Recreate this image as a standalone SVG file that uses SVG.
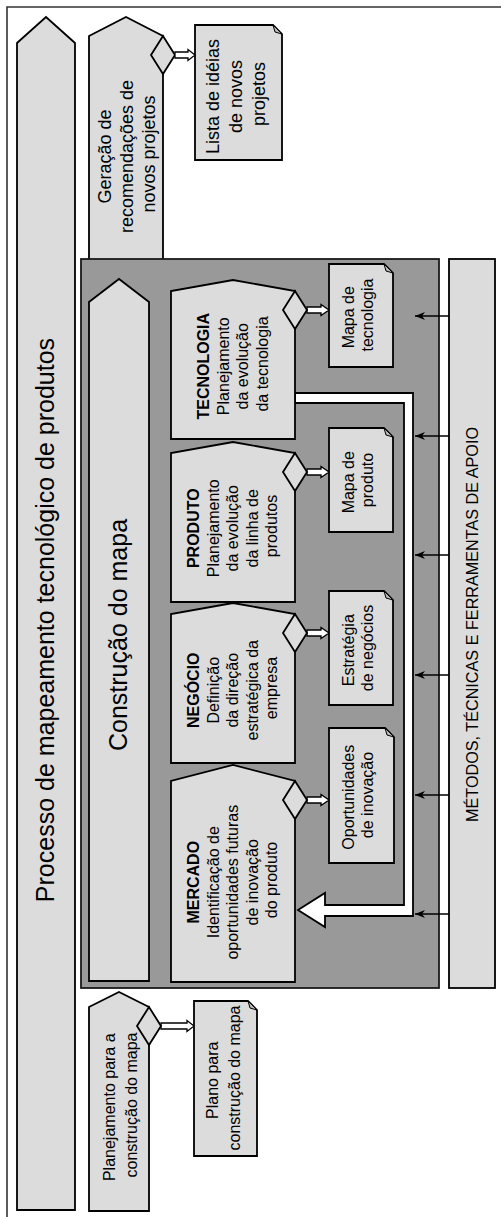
<svg xmlns="http://www.w3.org/2000/svg" width="501" height="1217" viewBox="0 0 501 1217">
  <style>
    .lt { fill: #dcdcdc; stroke: #000; stroke-width: 1.8; stroke-linejoin: miter; }
    .panel { fill: #999999; stroke: #1a1a1a; stroke-width: 1.8; }
    .fold { fill: #b8b8b8; stroke: #000; stroke-width: 1; }
    .hollow { fill: #ffffff; stroke: #000; stroke-width: 1.3; }
    .pipe { fill: #ffffff; stroke: #000; stroke-width: 1.8; stroke-linejoin: miter; }
    .feed { stroke: #000; stroke-width: 1.4; fill: none; }
    .t { font-family: "Liberation Sans", Arial, sans-serif; fill: #000; text-anchor: middle; }
    .s16 { font-size: 16px; }
    .s18 { font-size: 18px; }
    .s25 { font-size: 25px; }
    .b { font-weight: bold; }
  </style>
  <defs>
    <marker id="tip" markerUnits="userSpaceOnUse" markerWidth="12" markerHeight="10" refX="10" refY="4" orient="auto">
      <path d="M0,0 L10,4 L0,8 L3,4 Z" fill="#000"/>
    </marker>
  </defs>

  <rect width="501" height="1217" fill="#ffffff"/>

  <!-- outer frame (runs past the right and bottom edges) -->
  <path d="M7,1217 V7 H501" fill="none" stroke="#333" stroke-width="1.6"/>

  <!-- overall process -->
  <g id="processo">
    <path class="lt" d="M17,1210 V43 L46,17 L75,43 V1210 Z"/>
    <text class="t s25" transform="translate(46,620) rotate(-90)" y="7.5">Processo de mapeamento tecnológico de produtos</text>
  </g>

  <!-- phase: recommendations -->
  <g id="geracao">
    <path class="lt" d="M89,275 V36 L126,17 L163,36 V275 Z"/>
    <path class="lt" d="M163,36 L175,55 L163,74 L151,55 Z"/>
    <text class="t s18" transform="translate(128,154) rotate(-90)">
      <tspan x="0" y="-16.6">Geração de</tspan>
      <tspan x="0" y="5.4">recomendações de</tspan>
      <tspan x="0" y="27.4">novos projetos</tspan>
    </text>
  </g>

  <g id="lista-ideias">
    <path class="lt" d="M195,25 H273 L282,34 V160 H195 Z"/>
    <path class="fold" d="M273,25 L275,32 L282,34 Z"/>
    <text class="t s18" transform="translate(237,94) rotate(-90)">
      <tspan x="0" y="-17.6">Lista de idéias</tspan>
      <tspan x="0" y="5.4">de novos</tspan>
      <tspan x="0" y="28.4">projetos</tspan>
    </text>
  </g>

  <!-- map construction panel -->
  <g id="painel-construcao">
    <rect class="panel" x="81" y="259" width="358" height="729"/>
  </g>

  <g id="construcao">
    <path class="lt" d="M89,981 V302 L119,279 L149,302 V981 Z"/>
    <text class="t s25" transform="translate(119,635) rotate(-90)" y="7.5">Construção do mapa</text>
  </g>

  <!-- connectors -->
  <g id="conectores">
    <!-- feedback pipe from technology back to market -->
    <path class="pipe" d="M295,393 H413 V916 H325 V927 L298,910 L325,893 V905 H404 V403 H295 Z"/>

    <!-- hollow output arrows -->
    <path class="hollow" d="M175,52 H188 V49.5 L195,55 L188,60.5 V58 H175 Z"/>
    <path class="hollow" d="M161,1023 H187 V1020.5 L194,1026 L187,1031.5 V1029 H161 Z"/>
    <path class="hollow" d="M307,307 H321 V304.5 L329,310 L321,315.5 V313 H307 Z"/>
    <path class="hollow" d="M307,469 H321 V466.5 L329,472 L321,477.5 V475 H307 Z"/>
    <path class="hollow" d="M307,630 H321 V627.5 L329,633 L321,638.5 V636 H307 Z"/>
    <path class="hollow" d="M307,797 H321 V794.5 L329,800 L321,805.5 V803 H307 Z"/>

    <!-- support feeds -->
    <line class="feed" x1="449" y1="316" x2="415" y2="316" marker-end="url(#tip)"/>
    <line class="feed" x1="449" y1="436" x2="415" y2="436" marker-end="url(#tip)"/>
    <line class="feed" x1="449" y1="555" x2="415" y2="555" marker-end="url(#tip)"/>
    <line class="feed" x1="449" y1="675" x2="415" y2="675" marker-end="url(#tip)"/>
    <line class="feed" x1="449" y1="795" x2="415" y2="795" marker-end="url(#tip)"/>
    <line class="feed" x1="449" y1="914" x2="415" y2="914" marker-end="url(#tip)"/>
  </g>

  <!-- stages -->
  <g id="tecnologia">
    <path class="lt" d="M171,439 V291 L233,280 L295,291 V439 Z"/>
    <path class="lt" d="M295,291 L307,310 L295,329 L283,310 Z"/>
    <text class="t s16" transform="translate(233.5,364) rotate(-90)">
      <tspan class="b" x="0" y="-24.5">TECNOLOGIA</tspan>
      <tspan x="0" y="-5">Planejamento</tspan>
      <tspan x="0" y="14.5">da evolução</tspan>
      <tspan x="0" y="34">da tecnologia</tspan>
    </text>
  </g>

  <g id="produto">
    <path class="lt" d="M171,602 V453 L233,442 L295,453 V602 Z"/>
    <path class="lt" d="M295,453 L307,472 L295,491 L283,472 Z"/>
    <text class="t s16" transform="translate(233.5,526) rotate(-90)">
      <tspan class="b" x="0" y="-34.2">PRODUTO</tspan>
      <tspan x="0" y="-14.7">Planejamento</tspan>
      <tspan x="0" y="4.8">da evolução</tspan>
      <tspan x="0" y="24.3">da linha de</tspan>
      <tspan x="0" y="43.8">produtos</tspan>
    </text>
  </g>

  <g id="negocio">
    <path class="lt" d="M171,763 V614 L233,603 L295,614 V763 Z"/>
    <path class="lt" d="M295,614 L307,633 L295,652 L283,633 Z"/>
    <text class="t s16" transform="translate(233.5,688) rotate(-90)">
      <tspan class="b" x="0" y="-34.2">NEGÓCIO</tspan>
      <tspan x="0" y="-14.7">Definição</tspan>
      <tspan x="0" y="4.8">da direção</tspan>
      <tspan x="0" y="24.3">estratégica da</tspan>
      <tspan x="0" y="43.8">empresa</tspan>
    </text>
  </g>

  <g id="mercado">
    <path class="lt" d="M171,982 V781 L233,765 L295,781 V982 Z"/>
    <path class="lt" d="M295,781 L307,800 L295,819 L283,800 Z"/>
    <text class="t s16" transform="translate(233.5,880) rotate(-90)">
      <tspan class="b" x="0" y="-34.2">MERCADO</tspan>
      <tspan x="0" y="-14.7">Identificação de</tspan>
      <tspan x="0" y="4.8">oportunidades futuras</tspan>
      <tspan x="0" y="24.3">de inovação</tspan>
      <tspan x="0" y="43.8">do produto</tspan>
    </text>
  </g>

  <!-- stage outputs -->
  <g id="mapa-tecnologia">
    <path class="lt" d="M329,264 H384 L393,273 V367 H329 Z"/>
    <path class="fold" d="M384,264 L386,271 L393,273 Z"/>
    <text class="t s16" transform="translate(359,315) rotate(-90)">
      <tspan x="0" y="-4.7">Mapa de</tspan>
      <tspan x="0" y="14.3">tecnologia</tspan>
    </text>
  </g>

  <g id="mapa-produto">
    <path class="lt" d="M329,428 H384 L393,437 V532 H329 Z"/>
    <path class="fold" d="M384,428 L386,435 L393,437 Z"/>
    <text class="t s16" transform="translate(359,480) rotate(-90)">
      <tspan x="0" y="-4.7">Mapa de</tspan>
      <tspan x="0" y="14.3">produto</tspan>
    </text>
  </g>

  <g id="estrategia">
    <path class="lt" d="M329,591 H384 L393,600 V705 H329 Z"/>
    <path class="fold" d="M384,591 L386,598 L393,600 Z"/>
    <text class="t s16" transform="translate(359,648) rotate(-90)">
      <tspan x="0" y="-4.7">Estratégia</tspan>
      <tspan x="0" y="14.3">de negócios</tspan>
    </text>
  </g>

  <g id="oportunidades">
    <path class="lt" d="M329,728 H385 L394,737 V863 H329 Z"/>
    <path class="fold" d="M385,728 L387,735 L394,737 Z"/>
    <text class="t s16" transform="translate(359,795) rotate(-90)">
      <tspan x="0" y="-4.7">Oportunidades</tspan>
      <tspan x="0" y="14.3">de inovação</tspan>
    </text>
  </g>

  <!-- support methods bar -->
  <g id="metodos">
    <rect class="lt" x="449" y="259" width="46" height="729"/>
    <text class="t s16" transform="translate(472,624.5) rotate(-90)" y="5.8" textLength="395" lengthAdjust="spacingAndGlyphs">MÉTODOS, TÉCNICAS E FERRAMENTAS DE APOIO</text>
  </g>

  <!-- phase: planning -->
  <g id="planejamento">
    <path class="lt" d="M89,1211 V1007 L119,992 L149,1007 V1211 Z"/>
    <path class="lt" d="M149,1007 L161,1026 L149,1045 L137,1026 Z"/>
    <text class="t s16" transform="translate(121,1105) rotate(-90)">
      <tspan x="0" y="-6.2">Planejamento para a</tspan>
      <tspan x="0" y="15.8">construção do mapa</tspan>
    </text>
  </g>

  <g id="plano">
    <path class="lt" d="M194,1001 H248 L257,1010 V1156 H194 Z"/>
    <path class="fold" d="M248,1001 L250,1008 L257,1010 Z"/>
    <text class="t s16" transform="translate(224,1078) rotate(-90)">
      <tspan x="0" y="-6.2">Plano para</tspan>
      <tspan x="0" y="15.8">construção do mapa</tspan>
    </text>
  </g>
</svg>
